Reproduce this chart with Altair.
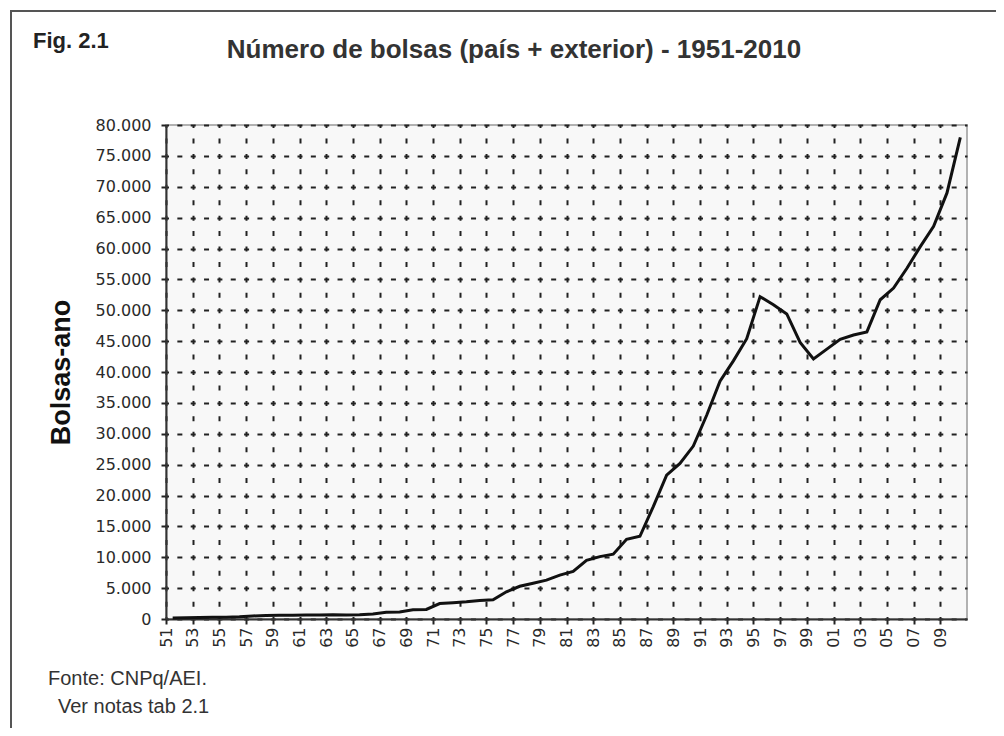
import altair as alt
import pandas as pd

# ---- data ----
anos = list(range(1951, 2011))
bolsas = [
    150, 200, 250, 300, 300, 350, 500, 550, 600, 600,          # 1951-1960
    650, 650, 700, 650, 700, 800, 1100, 1150, 1500, 1550,      # 1961-1970
    2500, 2650, 2800, 3000, 3100, 4400, 5300, 5800, 6300, 7100,  # 1971-1980
    7700, 9500, 10100, 10500, 12900, 13400, 18200, 23300, 25200, 28000,  # 1981-1990
    33000, 38500, 41800, 45400, 52200, 50900, 49400, 44800, 42100, 43700,  # 1991-2000
    45300, 46000, 46500, 51700, 53600, 56800, 60300, 63600, 69000, 78000,  # 2001-2010
]
x_tick_anos = list(range(1951, 2011, 2))
y_ticks = list(range(0, 80001, 5000))

titulo = "Número de bolsas (país + exterior) - 1951-2010"
fig_label = "Fig. 2.1"
fonte_1 = "Fonte: CNPq/AEI."
fonte_2 = "Ver notas tab 2.1"
y_titulo = "Bolsas-ano"

df = pd.DataFrame({"ano": anos, "bolsas": bolsas})

W, H = 801, 494

x_axis = alt.Axis(
    values=x_tick_anos,
    labelExpr="substring(toString(datum.value), 2, 4)",
    labelAngle=-90,
    labelFont="DejaVu Sans",
    labelFontSize=16,
    labelColor="#2a2a2a",
    labelPadding=3,
    labelFlush=False,
    labelOverlap=False,
    grid=True,
    gridColor="#222",
    gridWidth=2,
    gridDash=[5, 10.44],
    gridDashOffset=2.5,
    tickSize=5,
    tickColor="#222",
    tickWidth=2,
    domainColor="#333",
    domainWidth=2,
    title=None,
)

y_axis = alt.Axis(
    values=y_ticks,
    labelExpr="replace(format(datum.value, ','), ',', '.')",
    labelFont="DejaVu Sans",
    labelFontSize=16,
    labelColor="#2a2a2a",
    labelPadding=10,
    labelFlush=False,
    labelOverlap=False,
    grid=True,
    gridColor="#222",
    gridWidth=2,
    gridDash=[5, 8.35],
    gridDashOffset=2.5,
    tickSize=5,
    tickColor="#222",
    tickWidth=2,
    domainColor="#333",
    domainWidth=2,
    title=y_titulo,
    titleFont="Liberation Sans",
    titleFontSize=27,
    titleFontWeight="bold",
    titleColor="#111",
    titleX=-105,
    titleY=247,
    titleAlign="center",
    titleBaseline="middle",
    titleAngle=270,
)

line = (
    alt.Chart(df)
    .transform_calculate(xc="datum.ano + 0.5")
    .mark_line(color="#111", strokeWidth=3)
    .encode(
        x=alt.X("xc:Q", scale=alt.Scale(domain=[1951, 2011], nice=False, zero=False), axis=x_axis),
        y=alt.Y("bolsas:Q", scale=alt.Scale(domain=[0, 80000], nice=False), axis=y_axis),
    )
)

frame = (
    alt.Chart(pd.DataFrame({"a": [0]}))
    .mark_rect(fillOpacity=0, stroke="#555", strokeWidth=2)
    .encode(x=alt.value(-155), x2=alt.value(850), y=alt.value(-114), y2=alt.value(640))
)


def txt(s, x, y, size, weight="normal", align="left", font="Liberation Sans", color="#333"):
    return (
        alt.Chart(pd.DataFrame({"t": [s]}))
        .mark_text(font=font, fontSize=size, fontWeight=weight, align=align,
                   baseline="alphabetic", color=color)
        .encode(text="t:N", x=alt.value(x), y=alt.value(y))
    )


title_t = txt(titulo, 348, -67, 26, weight="bold", align="center")
fig_t = txt(fig_label, -133, -77, 22, weight="bold", color="#222")
fonte1_t = txt(fonte_1, -118, 560, 20)
fonte2_t = txt(fonte_2, -108, 588, 20)

chart = (
    alt.layer(frame, line, title_t, fig_t, fonte1_t, fonte2_t)
    .properties(
        width=W,
        height=H,
        autosize=alt.AutoSizeParams(type="none"),
        padding={"left": 158, "top": 117, "right": 29, "bottom": 109},
        background="white",
    )
    .configure_view(stroke="#999", strokeWidth=1.5, fill="#f8f8f8")
)

chart.save("out.html", embed_options={"renderer": "svg", "actions": False})
